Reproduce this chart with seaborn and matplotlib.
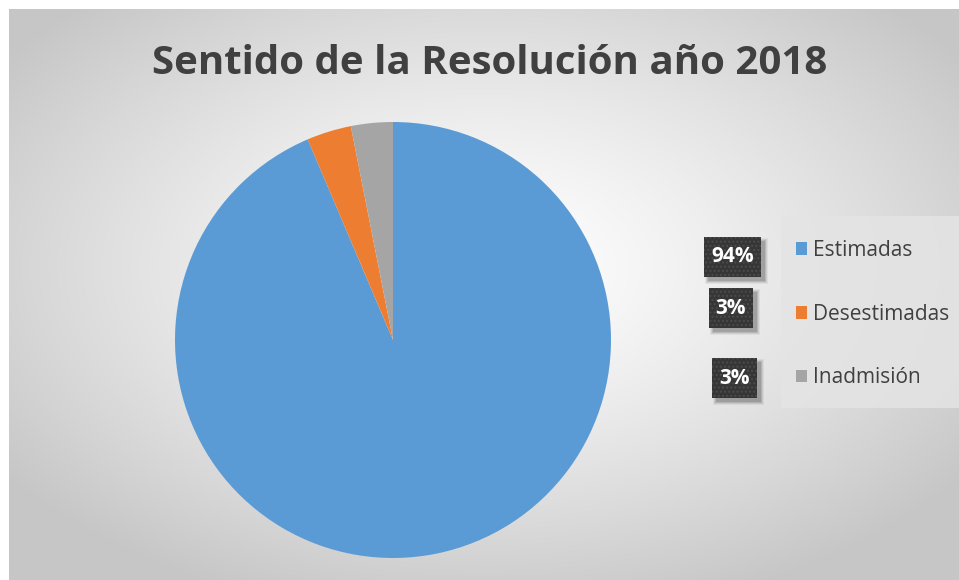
import numpy as np
import matplotlib
matplotlib.use("Agg")
import matplotlib.pyplot as plt
from matplotlib.patches import Rectangle
import seaborn as sns

# ---- data ----
categories = ["Estimadas", "Desestimadas", "Inadmisión"]
values = [93.6, 3.3, 3.1]
title_text = "Sentido de la Resolución año 2018"
colors = ["#5B9BD5", "#ED7D31", "#A5A5A5"]

sns.set_theme(style="white")
plt.rcParams["font.family"] = ["Open Sans", "DejaVu Sans"]

W, H = 959, 580
fig = plt.figure(figsize=(W / 100, H / 100), dpi=100)
fig.patch.set_facecolor("white")


def fx(px):
    return px / W


def fy(py):
    return 1 - py / H


# background chart area with radial gradient
bg = fig.add_axes([9 / W, 0, (W - 9) / W, (H - 9) / H])
bg.set_axis_off()
ny, nx = 300, 500
yy, xx = np.mgrid[0:ny, 0:nx]
cx, cy = nx * 0.50, ny * 0.45
r = np.sqrt(((xx - cx) / (nx * 0.62)) ** 2 + ((yy - cy) / (ny * 0.62)) ** 2)
r = np.clip(r, 0, 1)
light, dark = 1.0, 0.78
g = light - (light - dark) * r ** 1.3
img = np.dstack([g, g, g])
bg.imshow(img, aspect="auto", extent=[0, 1, 0, 1], interpolation="bilinear")
bg.set_xlim(0, 1)
bg.set_ylim(0, 1)

# pie
R = 218
cxp, cyp = 393, 340
ax = fig.add_axes([(cxp - R) / W, (H - cyp - R) / H, 2 * R / W, 2 * R / H])
wedges, _ = ax.pie(values, colors=colors, startangle=90, counterclock=False,
                   radius=1, wedgeprops=dict(linewidth=0))
ax.set_xlim(-1, 1)
ax.set_ylim(-1, 1)
ax.set_axis_off()

# title
fig.text(fx(490), fy(64), title_text, ha="center", va="center",
         fontsize=29, fontweight="bold", color="#404040")

# legend background panel
fig.patches.append(Rectangle((fx(781), fy(408)), fx(959) - fx(781), fy(216) - fy(408),
                             transform=fig.transFigure, facecolor="#E4E4E4",
                             edgecolor="none", alpha=0.85, zorder=1))

# legend
leg = fig.legend(wedges, categories, loc="upper left",
                 bbox_to_anchor=(fx(796), fy(240)),
                 frameon=False, fontsize=15,
                 labelspacing=2.05, handlelength=0.55, handleheight=0.55,
                 handletextpad=0.28, borderpad=0, borderaxespad=0)
leg.set_zorder(2)
for t in leg.get_texts():
    t.set_color("#404040")

# data labels
total = sum(values)
label_pos = [(732.5, 257), (731, 308), (734.5, 378)]
texts = []
for v, (px, py) in zip(values, label_pos):
    s = f"{round(v / total * 100):.0f}%"
    t = fig.text(fx(px), fy(py), s, ha="center", va="center",
                 fontsize=15, fontweight="bold", color="white", zorder=6)
    texts.append(t)

fig.canvas.draw()
renderer = fig.canvas.get_renderer()
box_h = 40
for t, (px, py) in zip(texts, label_pos):
    ext = t.get_window_extent(renderer)
    bw = ext.width + 14
    x0 = px - bw / 2
    y0 = py + box_h / 2  # bottom edge in top-down pixels
    # soft shadow
    for k, a in zip([5, 4, 3, 2], [0.05, 0.07, 0.1, 0.12]):
        fig.patches.append(Rectangle((fx(x0 + 4 - k + 2), fy(y0 + 4 + k - 2)),
                                     (bw + 2 * (k - 2)) / W, (box_h + 2 * (k - 2)) / H,
                                     transform=fig.transFigure, facecolor="black",
                                     edgecolor="none", alpha=a, zorder=4))
    fig.patches.append(Rectangle((fx(x0), fy(y0)), bw / W, box_h / H,
                                 transform=fig.transFigure, facecolor="#363636",
                                 edgecolor="#4c4c4c", linewidth=0, hatch="....",
                                 zorder=5))

fig.savefig("out.png", dpi=100)
